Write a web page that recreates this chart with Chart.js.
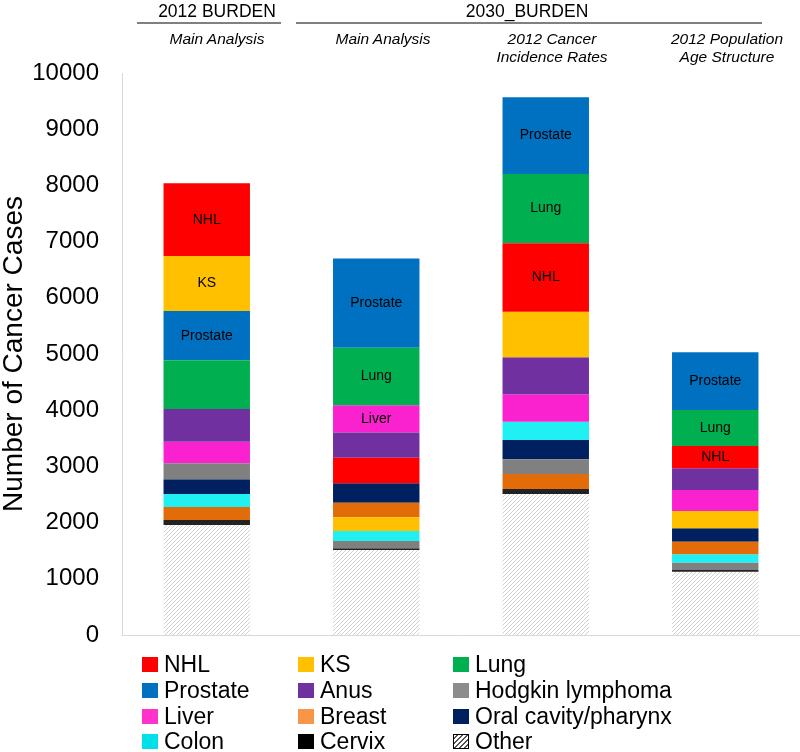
<!DOCTYPE html>
<html>
<head>
<meta charset="utf-8">
<script src="https://cdn.jsdelivr.net/npm/chart.js@4.4.1/dist/chart.umd.min.js"></script>
<style>
	body{margin:0;background:#fff;font-family:"Liberation Sans",Arial,sans-serif;}
	#wrap{position:relative;width:800px;height:752px;}
	#chart{position:absolute;left:0;top:0;}
	.hd{position:absolute;font-size:17.5px;color:#000;text-align:center;white-space:nowrap;}
	.hline{position:absolute;height:2px;background:#808080;}
	.sub{position:absolute;font-size:15.5px;font-style:italic;color:#000;text-align:center;line-height:18px;white-space:nowrap;}
	.lg{position:absolute;font-size:23px;line-height:26px;height:26px;white-space:nowrap;color:#000;}
	.sw{position:absolute;width:16px;height:15px;}
</style>
</head>
<body>
<div id="wrap">
	<canvas id="chart" width="800" height="752"></canvas>
</div>
<script>
// bars (x categories)
var groups = ['2012 BURDEN', '2030_BURDEN'];
var subtitles = [['Main Analysis'], ['Main Analysis'], ['2012 Cancer', 'Incidence Rates'], ['2012 Population', 'Age Structure']];
var categories = ['2012 Main Analysis', '2030 Main Analysis', '2030 2012 Cancer Incidence Rates', '2030 2012 Population Age Structure'];

// cancer types, in legend order
var cancerTypes = ['NHL', 'KS', 'Lung', 'Prostate', 'Anus', 'Hodgkin lymphoma', 'Liver', 'Breast', 'Oral cavity/pharynx', 'Colon', 'Cervix', 'Other'];
var typeColors = ['#FF0000', '#FFC000', '#00B050', '#0070C0', '#7030A0', '#808080', '#FA22CF', '#E36C0A', '#002060', '#20F0F2', '#222222', null];
var legendColors = ['#FF0000', '#FFC000', '#00B050', '#0070C0', '#7030A0', '#8C8C8C', '#FF33CC', '#F79646', '#002060', '#00E0E8', '#000000', null];

// number of cancer cases, one value per bar
var nhl      = [1293, 455, 1217, 397];
var ks       = [979, 243, 812, 308];
var lung     = [867, 1021, 1233, 641];
var prostate = [877, 1589, 1365, 1026];
var anus     = [581, 450, 659, 386];
var hodgkin  = [285, 130, 261, 129];
var liver    = [385, 486, 487, 374];
var breast   = [232, 260, 267, 226];
var oral     = [261, 345, 344, 237];
var colon    = [231, 178, 325, 149];
var cervix   = [89, 31, 89, 30];
var other    = [1957, 1512, 2509, 1127];
var seriesValues = [nhl, ks, lung, prostate, anus, hodgkin, liver, breast, oral, colon, cervix, other];

// stacking order of each bar, bottom to top
var stackOrder1 = ['Other', 'Cervix', 'Breast', 'Colon', 'Oral cavity/pharynx', 'Hodgkin lymphoma', 'Liver', 'Anus', 'Lung', 'Prostate', 'KS', 'NHL'];
var stackOrder2 = ['Other', 'Cervix', 'Hodgkin lymphoma', 'Colon', 'KS', 'Breast', 'Oral cavity/pharynx', 'NHL', 'Anus', 'Liver', 'Lung', 'Prostate'];
var stackOrder3 = ['Other', 'Cervix', 'Breast', 'Hodgkin lymphoma', 'Oral cavity/pharynx', 'Colon', 'Liver', 'Anus', 'KS', 'NHL', 'Lung', 'Prostate'];
var stackOrder4 = ['Other', 'Cervix', 'Hodgkin lymphoma', 'Colon', 'Breast', 'Oral cavity/pharynx', 'KS', 'Liver', 'Anus', 'NHL', 'Lung', 'Prostate'];
var stackOrders = [stackOrder1, stackOrder2, stackOrder3, stackOrder4];

// segments that carry a name inside the bar
var barLabels = [['NHL', 'KS', 'Prostate'], ['Prostate', 'Lung', 'Liver'], ['Prostate', 'Lung', 'NHL'], ['Prostate', 'Lung', 'NHL']];

var yTicks = [0, 1000, 2000, 3000, 4000, 5000, 6000, 7000, 8000, 9000, 10000];


// hatch for "Other"
function makeHatch(){
	var c = document.createElement('canvas');
	c.width = 4; c.height = 4;
	var g = c.getContext('2d');
	g.fillStyle = '#fff';
	g.fillRect(0, 0, 4, 4);
	g.strokeStyle = '#c6c6c6';
	g.lineWidth = 0.8;
	g.beginPath();
	g.moveTo(0, 4); g.lineTo(4, 0);
	g.moveTo(-1, 1); g.lineTo(1, -1);
	g.moveTo(3, 5); g.lineTo(5, 3);
	g.stroke();
	return g.createPattern(c, 'repeat');
}
var hatch = makeHatch();

// floating [start,end] ranges so each bar can have its own order
var datasets = [];
cancerTypes.forEach(function(name, k){
	var ranges = [];
	for(var i = 0; i < categories.length; i++){
		var base = 0;
		var order = stackOrders[i];
		for(var j = 0; j < order.length; j++){
			var v = seriesValues[cancerTypes.indexOf(order[j])][i];
			if(order[j] == name){
				ranges[i] = [base, base + v];
				break;
			}
			base += v;
		}
	}
	datasets.push({
		label: name,
		data: ranges,
		backgroundColor: typeColors[k] || hatch,
		borderWidth: 0,
		grouped: false,
		categoryPercentage: 1,
		barPercentage: 0.51
	});
});

var barText = {
	id: 'barText',
	afterDatasetsDraw: function(chart){
		var ctx = chart.ctx;
		ctx.save();
		ctx.font = '14px "Liberation Sans", Arial, sans-serif';
		ctx.fillStyle = '#000';
		ctx.textAlign = 'center';
		ctx.textBaseline = 'middle';
		barLabels.forEach(function(list, i){
			list.forEach(function(name){
				var el = chart.getDatasetMeta(cancerTypes.indexOf(name)).data[i];
				ctx.fillText(name, el.x, (el.y + el.base) / 2);
			});
		});
		ctx.restore();
	}
};

new Chart(document.getElementById('chart'), {
	type: 'bar',
	data: {labels: categories, datasets: datasets},
	options: {
		responsive: false,
		animation: false,
		layout: {padding: {top: 73, bottom: 117, left: 0, right: 0}},
		plugins: {legend: {display: false}, tooltip: {enabled: false}},
		scales: {
			x: {
				ticks: {display: false},
				grid: {display: false, drawTicks: false},
				border: {display: true, color: '#d9d9d9'},
				afterFit: function(s){ s.height = 0; }
			},
			y: {
				min: 0, max: 10000,
				afterBuildTicks: function(s){ s.ticks = yTicks.map(function(v){ return {value: v}; }); },
				ticks: {color: '#000', padding: 23, font: {size: 24, family: '"Liberation Sans", Arial, sans-serif'},
					callback: function(v){ return String(v); }},
				grid: {display: false, drawTicks: false},
				border: {display: true, color: '#d9d9d9'},
				title: {display: true, text: 'Number of Cancer Cases', color: '#000', padding: 0,
					font: {size: 28, family: '"Liberation Sans", Arial, sans-serif', lineHeight: 1}},
				afterFit: function(s){ s.width = 122; }
			}
		}
	},
	plugins: [barText]
});

// header above the bars
var wrap = document.getElementById('wrap');
function addDiv(cls, css, text){
	var d = document.createElement('div');
	d.className = cls;
	d.style.cssText = css;
	if(text) d.innerHTML = text;
	wrap.appendChild(d);
	return d;
}
addDiv('hd', 'left:117px;width:200px;top:1px;', groups[0]);
addDiv('hd', 'left:427px;width:200px;top:1px;', groups[1]);
addDiv('hline', 'left:137px;width:144px;top:22px;');
addDiv('hline', 'left:296px;width:466px;top:22px;');
var subCenters = [217, 383, 552, 727];
subtitles.forEach(function(lines, i){
	addDiv('sub', 'left:' + (subCenters[i] - 80) + 'px;width:160px;top:30px;', lines.join('<br>'));
});

// legend, 3 columns
var colBox = [142, 298, 453];
var rowMid = [664, 690, 716, 741];
cancerTypes.forEach(function(name, k){
	var col = k % 3, row = Math.floor(k / 3);
	var sw = addDiv('sw', 'left:' + colBox[col] + 'px;top:' + (rowMid[row] - 7) + 'px;');
	if(legendColors[k]){
		sw.style.background = legendColors[k];
	}else{
		sw.style.boxSizing = 'border-box';
		sw.style.border = '1.5px solid #000';
		sw.style.background = 'repeating-linear-gradient(135deg,#fff 0 2px,#555 2px 3.5px)';
	}
	addDiv('lg', 'left:' + (colBox[col] + 22) + 'px;top:' + (rowMid[row] - 13) + 'px;', name);
});
</script>
</body>
</html>
